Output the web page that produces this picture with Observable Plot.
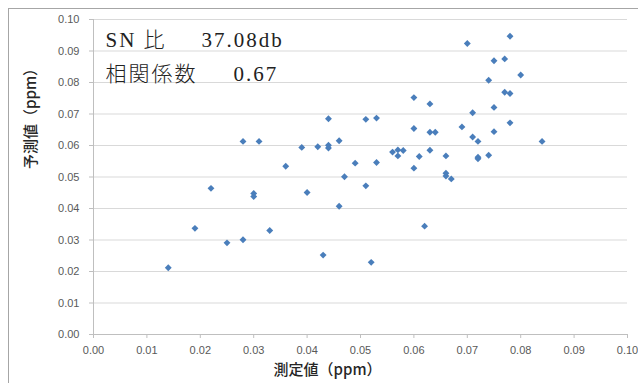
<!DOCTYPE html>
<html>
<head>
<meta charset="utf-8">
<script src="https://cdn.jsdelivr.net/npm/d3@7"></script>
<script src="https://cdn.jsdelivr.net/npm/@observablehq/plot@0.6"></script>
<style>
  html, body { margin: 0; padding: 0; background: #fff; overflow: hidden; }
  #wrap { position: relative; width: 638px; height: 383px; overflow: hidden; background: #fff; }
  #frame { position: absolute; left: 8px; top: 8px; width: 700px; height: 450px; border: 1px solid #a6a6a6; box-sizing: border-box; }
  #chart { position: absolute; left: 0; top: 0; }
  #chart svg { background: transparent; }
  [aria-label="x-axis tick"], [aria-label="y-axis tick"],
  [aria-label="x-axis"] line, [aria-label="y-axis"] line { stroke: #bfbfbf; }
  g[font-family^="Liberation Serif"] { letter-spacing: 2px; }
</style>
</head>
<body>
<div id="wrap"><div id="frame"></div><div id="chart"></div></div>
<script>
// measured (x) and predicted (y) values, ppm
const measured = [0.014,0.019,0.022,0.025,0.028,0.028,0.031,0.030,0.030,0.033,0.036,0.039,0.040,0.042,0.043,0.044,0.044,0.044,0.046,0.046,0.047,0.049,0.051,0.051,0.052,0.053,0.053,0.056,0.057,0.057,0.058,0.060,0.060,0.060,0.061,0.062,0.063,0.063,0.063,0.064,0.066,0.066,0.066,0.067,0.069,0.070,0.071,0.071,0.072,0.072,0.072,0.074,0.074,0.075,0.075,0.075,0.077,0.077,0.078,0.078,0.078,0.080,0.084];
const predicted = [0.0212,0.0337,0.0464,0.0291,0.0301,0.0613,0.0613,0.0448,0.0438,0.0330,0.0534,0.0594,0.0451,0.0596,0.0252,0.0685,0.0601,0.0592,0.0615,0.0407,0.0501,0.0544,0.0683,0.0472,0.0229,0.0687,0.0546,0.0579,0.0586,0.0567,0.0584,0.0752,0.0654,0.0528,0.0565,0.0344,0.0732,0.0642,0.0585,0.0642,0.0567,0.0512,0.0503,0.0494,0.0659,0.0924,0.0704,0.0627,0.0613,0.0563,0.0558,0.0807,0.0569,0.0869,0.0721,0.0644,0.0875,0.0769,0.0947,0.0765,0.0672,0.0824,0.0613];
const xTicks = [0,0.01,0.02,0.03,0.04,0.05,0.06,0.07,0.08,0.09,0.10];
const yTicks = [0,0.01,0.02,0.03,0.04,0.05,0.06,0.07,0.08,0.09,0.10];
const statNames = ["SN 比", "相関係数"];
const statValues = ["37.08db", "0.67"];
const xTitle = "測定値（ppm）";
const yTitle = "予測値（ppm）";

const points = measured.map((m, i) => ({measured: m, predicted: predicted[i]}));

const serif = "Liberation Serif, 'Noto Sans CJK JP', serif";
const statStyle = {frameAnchor: "top-left", lineAnchor: "bottom", textAnchor: "start", fontFamily: serif, fontSize: 21, fill: "#222", fontWeight: 300};
const titleStyle = {text: d => d, lineAnchor: "middle", fontSize: 15, fontWeight: 500, fill: "#262626", fontFamily: "'Noto Sans CJK JP', sans-serif"};

const chart = Plot.plot({
  width: 638,
  height: 383,
  marginLeft: 93,
  marginRight: 11,
  marginTop: 19,
  marginBottom: 49,
  style: {fontFamily: "Liberation Sans, Arial, sans-serif", fontSize: "11px", color: "#595959", background: "transparent"},
  x: {domain: [0, 0.1], ticks: xTicks, tickFormat: d3.format(".2f"), tickSize: 4, tickPadding: 8, label: null},
  y: {domain: [0, 0.1], ticks: yTicks, tickFormat: d3.format(".2f"), tickSize: 4, tickPadding: 10, label: null},
  marks: [
    Plot.ruleY(yTicks, {y: d => d, stroke: "#d9d9d9", strokeWidth: 1.2}),
    Plot.ruleX([0], {stroke: "#bfbfbf"}),
    Plot.ruleY([0], {stroke: "#bfbfbf"}),
    Plot.dot(points, {x: "measured", y: "predicted", symbol: "diamond2", r: 3.1, fill: "#4a7ebb", stroke: null}),
    Plot.text([statNames[0]], {...statStyle, text: d => d, dx: 12, dy: 27}),
    Plot.text([statValues[0]], {...statStyle, text: d => d, dx: 108, dy: 27}),
    Plot.text([statNames[1]], {...statStyle, text: d => d, dx: 12, dy: 61}),
    Plot.text([statValues[1]], {...statStyle, text: d => d, dx: 140, dy: 61}),
    Plot.text([xTitle], {...titleStyle, frameAnchor: "bottom", dx: -33, dy: 36}),
    Plot.text([yTitle], {...titleStyle, frameAnchor: "left", rotate: -90, dx: -62, dy: -8})
  ]
});
document.getElementById("chart").appendChild(chart);
</script>
</body>
</html>
